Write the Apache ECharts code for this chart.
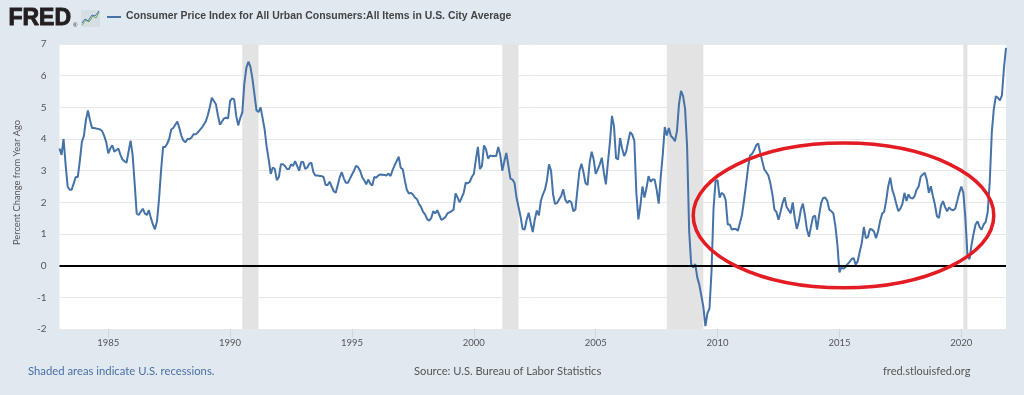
<!DOCTYPE html>
<html><head><meta charset="utf-8">
<script src="https://cdn.jsdelivr.net/npm/echarts@6/dist/echarts.min.js"></script>
<style>html,body{margin:0;padding:0;background:#e1e9f0;}#c{width:1024px;height:395px;}</style>
</head><body><div id="c"></div>
<script>
// Monthly CPI percent change from year ago, starting Jan 1983
const startYear = 1983;
const cpi1980s = [
  3.7, 3.5, 4.0, 3.2, 2.5, 2.4, 2.4, 2.6, 2.8, 2.8, 3.3, 3.9,
  4.1, 4.6, 4.9, 4.6, 4.35, 4.35, 4.33, 4.32, 4.3, 4.25, 4.1, 3.9,
  3.55, 3.7, 3.8, 3.6, 3.65, 3.7, 3.5, 3.35, 3.3, 3.25, 3.6, 3.95,
  3.5, 2.6, 1.65, 1.6, 1.7, 1.8, 1.65, 1.6, 1.75, 1.5, 1.3, 1.15,
  1.4, 2.1, 3.0, 3.75, 3.75, 3.85, 4.0, 4.3, 4.35, 4.45, 4.55, 4.35,
  4.1, 3.95, 3.9, 4.0, 4.0, 4.05, 4.15, 4.15, 4.2, 4.28, 4.35, 4.45,
  4.55, 4.75, 5.0, 5.3, 5.2, 5.1, 4.75, 4.45, 4.55, 4.65, 4.67, 4.65
];
const cpi1990s = [
  5.2, 5.28, 5.25, 4.73, 4.43, 4.67, 4.83, 5.75, 6.25, 6.44, 6.28, 5.9,
  5.4, 4.9, 4.85, 5.0, 4.65, 4.3, 3.75, 3.35, 2.9, 3.1, 3.05, 2.7,
  2.8, 3.2, 3.2, 3.15, 3.05, 3.05, 3.2, 3.15, 3.3, 3.15, 3.0, 3.27,
  3.27, 3.05, 3.1, 3.22, 3.25, 2.95, 2.85, 2.85, 2.83, 2.83, 2.8, 2.55,
  2.55, 2.65, 2.5, 2.35, 2.3, 2.55, 2.8, 2.95, 2.75, 2.62, 2.62, 2.75,
  2.88, 3.0, 3.15, 3.11, 3.0, 2.8, 2.7, 2.57, 2.72, 2.59, 2.53, 2.8,
  2.78, 2.85, 2.88, 2.87, 2.86, 2.85, 2.91, 2.83, 3.02, 3.17, 3.3, 3.44,
  3.09, 3.04, 2.7, 2.4, 2.28, 2.3, 2.25, 2.15, 2.1, 1.95, 1.85, 1.7,
  1.62, 1.47, 1.42, 1.5, 1.72, 1.65, 1.75, 1.6, 1.45, 1.48, 1.54, 1.65,
  1.68, 1.72, 1.77, 2.28, 2.15, 2.0, 2.15, 2.3, 2.62, 2.6, 2.65, 2.8
];
const cpi2000s = [
  2.9, 3.35, 3.75, 3.05, 3.15, 3.8, 3.67, 3.38, 3.48, 3.46, 3.46, 3.46,
  3.75, 3.5, 3.0, 3.3, 3.56, 3.15, 2.75, 2.72, 2.62, 2.15, 1.85, 1.55,
  1.16, 1.14, 1.45, 1.67, 1.35, 1.06, 1.46, 1.74, 1.59, 2.05, 2.25, 2.4,
  2.7, 3.2, 3.0, 2.25, 1.95, 1.98, 2.1, 2.2, 2.41, 2.09, 1.98, 2.05,
  2.0, 1.72, 1.77, 2.4, 3.0, 3.22, 2.94, 2.6, 2.55, 3.25, 3.6, 3.35,
  2.9, 3.04, 3.2, 3.41, 2.95, 2.57, 3.25, 3.9, 4.73, 4.4, 3.4, 3.35,
  4.03, 3.7, 3.46, 3.6, 3.93, 4.22, 4.14, 3.95, 2.3, 1.46, 1.9, 2.5,
  2.15, 2.45, 2.83, 2.65, 2.72, 2.72, 2.4, 1.96, 2.8, 3.5, 4.38, 4.11,
  4.35, 4.1, 4.03, 3.93, 4.25, 5.1, 5.52, 5.36, 4.95, 3.75, 1.1, 0.05,
  -0.06, 0.05, -0.37, -0.6, -0.95, -1.3, -1.91, -1.5, -1.36, -0.2, 1.8, 2.67
];
const cpi2010s = [
  2.7, 2.15, 2.3, 2.25, 2.07, 1.3, 1.3, 1.14, 1.16, 1.16, 1.1, 1.35,
  1.6, 2.05, 2.55, 3.1, 3.48, 3.53, 3.65, 3.8, 3.86, 3.56, 3.3, 3.04,
  2.95, 2.85, 2.6, 2.25, 1.77, 1.69, 1.45, 1.7, 1.98, 2.16, 1.85, 1.75,
  1.65, 2.0, 1.5, 1.16, 1.4, 1.77, 1.96, 1.6, 1.14, 0.91, 1.24, 1.54,
  1.58, 1.14, 1.6, 1.98, 2.14, 2.15, 2.05, 1.77, 1.72, 1.65, 1.25, 0.65,
  -0.21, -0.05, -0.1, -0.04, 0.05, 0.12, 0.21, 0.24, 0.03, 0.15, 0.45, 0.72,
  1.22, 0.87, 0.9, 1.16, 1.14, 1.08, 0.87, 1.08, 1.4, 1.64, 1.7, 2.05,
  2.5, 2.78, 2.4, 2.2, 1.95, 1.72, 1.8, 1.95, 2.3, 2.04, 2.25, 2.14,
  2.12, 2.2, 2.4, 2.5, 2.81, 2.88, 2.93, 2.72, 2.3, 2.51, 2.2, 1.93,
  1.56, 1.51, 1.9, 2.04, 1.85, 1.72, 1.84, 1.77, 1.75, 1.8, 2.04, 2.3
];
const cpi2020s = [
  2.5, 2.3, 1.5, 0.35, 0.2, 0.65, 1.0, 1.3, 1.4, 1.22, 1.14, 1.3,
  1.38, 1.7, 2.65, 4.2, 4.95, 5.35, 5.3, 5.22, 5.38, 6.25, 6.88
];
const tickYears = ['1985','1990','1995','2000','2005','2010','2015','2020'];
const yTicks = [-2, -1, 0, 1, 2, 3, 4, 5, 6, 7];
const recessions = [['1990-07','1991-03'],['2001-03','2001-11'],['2007-12','2009-06'],['2020-02','2020-04']];
const highlight = {from: '2009-01', to: '2021-05', top: 3.87, bottom: -0.7};

const values = [].concat(cpi1980s, cpi1990s, cpi2000s, cpi2010s, cpi2020s);
const months = values.map((v, i) => {
  const y = startYear + Math.floor(i / 12);
  const m = (i % 12) + 1;
  return y + '-' + (m < 10 ? '0' + m : m);
});
const isTick = (i, v) => v.endsWith('-01') && tickYears.includes(v.slice(0, 4));

const chart = echarts.init(document.getElementById('c'), null, {renderer: 'canvas'});
const FONT = "'Liberation Sans', Arial, sans-serif";
const HFONT = "Lato, 'Liberation Sans', sans-serif";
chart.setOption({
  backgroundColor: '#e1e9f0',
  animation: false,
  grid: {left: 59.5, right: 18, top: 44, bottom: 66, show: true, backgroundColor: '#ffffff', borderWidth: 0},
  xAxis: {
    type: 'category', data: months, boundaryGap: false,
    axisLine: {show: false, onZero: false},
    axisTick: {show: true, interval: isTick, length: 9, lineStyle: {color: '#cdd7e2'}},
    axisLabel: {interval: isTick, formatter: v => v.slice(0, 4), color: '#555', fontSize: 9.5, margin: 9,
      fontFamily: HFONT},
    splitLine: {show: false}
  },
  yAxis: {
    type: 'value', min: yTicks[0], max: yTicks[yTicks.length - 1], interval: 1,
    axisLine: {show: false}, axisTick: {show: false},
    axisLabel: {color: '#555', fontSize: 10, margin: 13, fontFamily: HFONT},
    splitLine: {lineStyle: {color: '#e8e8e8', width: 1}},
    name: 'Percent Change from Year Ago', nameLocation: 'middle', nameRotate: 90, nameGap: 38,
    nameTextStyle: {color: '#555', fontSize: 9.3, fontFamily: HFONT, padding: [0, 0, 0, 8]}
  },
  series: [{
    type: 'line', data: values, showSymbol: false, symbol: 'none',
    lineStyle: {color: '#4572a7', width: 2}, itemStyle: {color: '#4572a7'},
    z: 3,
    markArea: {silent: true, itemStyle: {color: '#e3e3e3'},
      data: recessions.map(r => [{xAxis: r[0]}, {xAxis: r[1]}])},
    markLine: {silent: true, symbol: 'none', label: {show: false},
      lineStyle: {color: '#000', width: 2, type: 'solid'},
      data: [{yAxis: 0}]}
  }],
  graphic: [
    {type: 'text', left: 8, top: 7, style: {text: 'FRED', font: "bold 23px " + FONT, fill: '#231f20', stroke: '#231f20', lineWidth: 0.9}},
    {type: 'text', left: 73, top: 22, style: {text: '®', font: "6px " + FONT, fill: '#231f20'}},
    {type: 'rect', shape: {x: 81, y: 10, width: 19, height: 17}, style: {fill: '#d5dde5'}},
    {type: 'polyline', shape: {points: [[82,25],[86,20],[89,22],[93,16],[96,18],[99,12]]}, style: {stroke: '#6aa84f', lineWidth: 1, fill: 'none'}},
    {type: 'polyline', shape: {points: [[82,23],[85,19],[88,21],[92,15],[95,16],[99,11]]}, style: {stroke: '#4572a7', lineWidth: 1, fill: 'none'}},
    {type: 'line', shape: {x1: 107, y1: 17, x2: 121, y2: 17}, style: {stroke: '#4572a7', lineWidth: 2}},
    {type: 'text', left: 126, top: 11, style: {text: 'Consumer Price Index for All Urban Consumers:All Items in U.S. City Average', font: "bold 10.45px " + FONT, fill: '#444'}},
    {type: 'text', left: 28, top: 366, style: {text: 'Shaded areas indicate U.S. recessions.', font: "11.3px " + HFONT, fill: '#4a6fa5'}},
    {type: 'text', left: 414, top: 366, style: {text: 'Source: U.S. Bureau of Labor Statistics', font: "11.2px " + HFONT, fill: '#555'}},
    {type: 'text', left: 883, top: 366, style: {text: 'fred.stlouisfed.org', font: "11px " + HFONT, fill: '#555'}}
  ]
});

// red ellipse annotation, positioned through the axes
const xl = chart.convertToPixel({xAxisIndex: 0}, highlight.from);
const xr = chart.convertToPixel({xAxisIndex: 0}, highlight.to);
const yt = chart.convertToPixel({yAxisIndex: 0}, highlight.top);
const yb = chart.convertToPixel({yAxisIndex: 0}, highlight.bottom);
chart.setOption({graphic: [{type: 'ellipse', id: 'hl', z: 100,
  shape: {cx: (xl + xr) / 2, cy: (yt + yb) / 2, rx: (xr - xl) / 2, ry: (yb - yt) / 2},
  style: {fill: 'none', stroke: '#e31b23', lineWidth: 3.5}}]});
</script>
</body></html>
